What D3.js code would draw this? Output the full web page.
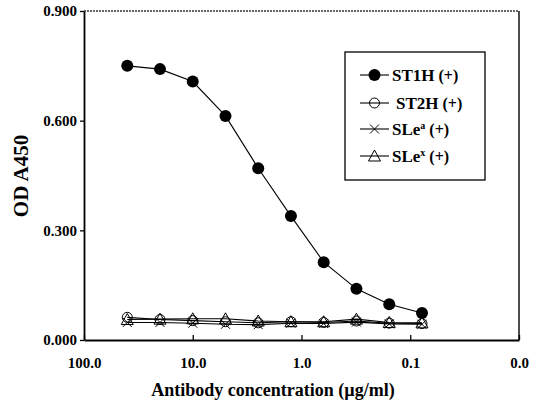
<!DOCTYPE html>
<html>
<head>
<meta charset="utf-8">
<script src="https://cdn.jsdelivr.net/npm/d3@7"></script>
<style>
  body { margin: 0; background: #fff; }
  text { font-family: "Liberation Serif", "Times New Roman", serif; font-weight: bold; fill: #000; }
</style>
</head>
<body>
<svg id="chart"></svg>
<script>
// two-fold dilutions, ug/ml
const concentrations = [40, 20, 10, 5, 2.5, 1.25, 0.625, 0.3125, 0.156, 0.078];
const st1h = [0.750, 0.741, 0.707, 0.613, 0.470, 0.339, 0.213, 0.140, 0.098, 0.074];
const st2h = [0.062, 0.056, 0.053, 0.050, 0.047, 0.050, 0.048, 0.052, 0.046, 0.045];
const slea = [0.048, 0.048, 0.046, 0.043, 0.042, 0.046, 0.045, 0.049, 0.044, 0.043];
const slex = [0.056, 0.057, 0.058, 0.058, 0.052, 0.050, 0.050, 0.057, 0.048, 0.047];
const xTicks = [100, 10, 1, 0.1, 0.01];
const xTickLabels = ["100.0", "10.0", "1.0", "0.1", "0.0"];
const yTicks = [0, 0.3, 0.6, 0.9];

const series = [
  {name: "ST1H", sup: "", values: st1h, marker: "filled"},
  {name: "ST2H", sup: "", values: st2h, marker: "circle"},
  {name: "SLe", sup: "a", values: slea, marker: "cross"},
  {name: "SLe", sup: "x", values: slex, marker: "triangle"}
];

const width = 534, height = 407;
const margin = {top: 11, right: 15, bottom: 67, left: 84};
const svg = d3.select("#chart").attr("width", width).attr("height", height);

const x = d3.scaleLog().domain([100, 0.01]).range([margin.left, width - margin.right]);
const y = d3.scaleLinear().domain([0, 0.9]).range([height - margin.bottom, margin.top]);

// frame: top dotted, right solid
svg.append("line")
  .attr("x1", margin.left).attr("x2", width - margin.right)
  .attr("y1", margin.top).attr("y2", margin.top)
  .attr("stroke", "#333").attr("stroke-width", 1.3).attr("stroke-dasharray", "2,1");
svg.append("line")
  .attr("x1", width - margin.right).attr("x2", width - margin.right)
  .attr("y1", margin.top).attr("y2", height - margin.bottom)
  .attr("stroke", "#000").attr("stroke-width", 1.4);

// axes
const xAxis = svg.append("g")
  .attr("transform", `translate(0,${height - margin.bottom})`)
  .call(d3.axisBottom(x).tickValues(xTicks).tickSizeInner(-5).tickSizeOuter(0)
    .tickFormat((d, i) => xTickLabels[i]).tickPadding(17));
xAxis.select(".domain").attr("stroke-width", 1.8);
xAxis.selectAll(".tick line").attr("stroke-width", 1.3);
xAxis.selectAll("text").attr("font-size", 15).attr("font-family", null);

const yAxis = svg.append("g")
  .attr("transform", `translate(${margin.left},0)`)
  .call(d3.axisLeft(y).tickValues(yTicks).tickSizeInner(4).tickSizeOuter(0)
    .tickFormat(d3.format(".3f")).tickPadding(3));
yAxis.select(".domain").attr("stroke-width", 1.8);
yAxis.selectAll(".tick line").attr("stroke-width", 1.3);
yAxis.selectAll("text").attr("font-size", 15).attr("font-family", null);

// titles
svg.append("text")
  .attr("x", 273).attr("y", 396)
  .attr("text-anchor", "middle").attr("font-size", 18)
  .text("Antibody concentration (\u00b5g/ml)");
svg.append("text")
  .attr("transform", "translate(28,176) rotate(-90)")
  .attr("text-anchor", "middle").attr("font-size", 21)
  .text("OD A450");

function drawMarker(g, type) {
  if (type === "filled") {
    g.append("circle").attr("r", 6).attr("fill", "#000");
  } else if (type === "circle") {
    g.append("circle").attr("r", 5).attr("fill", "none").attr("stroke", "#000").attr("stroke-width", 1);
  } else if (type === "cross") {
    g.append("path").attr("d", "M-4.5,-4.5L4.5,4.5M-4.5,4.5L4.5,-4.5")
      .attr("stroke", "#000").attr("stroke-width", 1);
  } else {
    g.append("path").attr("d", "M0,-6L6,5L-6,5Z")
      .attr("fill", "none").attr("stroke", "#000").attr("stroke-width", 1);
  }
}

const line = d3.line().x(d => x(d.c)).y(d => y(d.v));

// draw baseline series first, ST1H last
series.slice().reverse().forEach(s => {
  const pts = concentrations.map((c, i) => ({c: c, v: s.values[i]}));
  svg.append("path").datum(pts)
    .attr("d", line).attr("fill", "none")
    .attr("stroke", "#000").attr("stroke-width", 1.1);
  pts.forEach(p => {
    const g = svg.append("g").attr("transform", `translate(${x(p.c)},${y(p.v)})`);
    drawMarker(g, s.marker);
  });
});

// legend
const legend = svg.append("g");
legend.append("rect")
  .attr("x", 345).attr("y", 52).attr("width", 140).attr("height", 128)
  .attr("fill", "#fff").attr("stroke", "#000").attr("stroke-width", 1.3);
const legendY = [75, 103, 129, 156];
series.forEach((s, i) => {
  const ly = legendY[i];
  legend.append("line")
    .attr("x1", 360).attr("x2", 389).attr("y1", ly).attr("y2", ly)
    .attr("stroke", "#000").attr("stroke-width", 1.1);
  drawMarker(legend.append("g").attr("transform", `translate(374.5,${ly})`), s.marker);
  const t = legend.append("text")
    .attr("x", i === 1 ? 396 : 392).attr("y", ly + 6).attr("font-size", 17);
  t.append("tspan").text(s.name);
  if (s.sup) {
    t.append("tspan").attr("font-size", 10).attr("dy", -6).text(s.sup);
    t.append("tspan").attr("dy", 6).attr("font-size", 16).text(" (+)");
  } else {
    t.append("tspan").attr("font-size", 16).text(" (+)");
  }
});
</script>
</body>
</html>
